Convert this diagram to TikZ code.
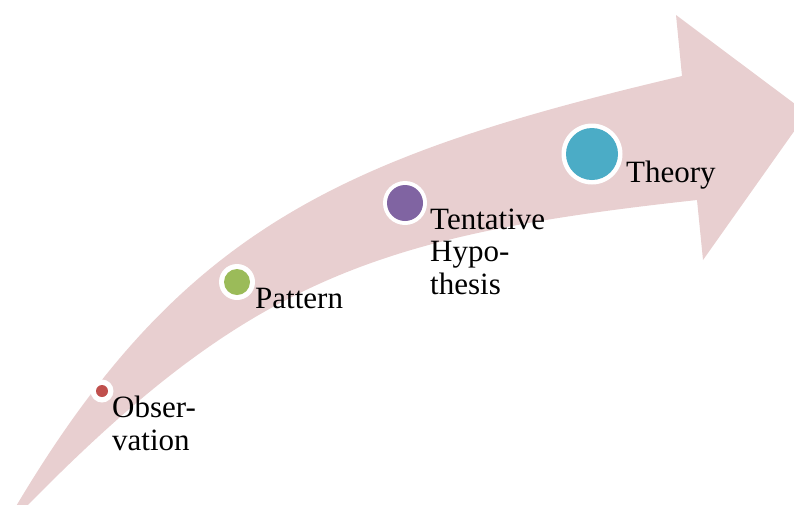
\documentclass[tikz,border=0pt]{standalone}
\usepackage{fontspec}
\setmainfont{Liberation Serif}
\newfontfamily\lblfont{Liberation Serif}
\definecolor{arrowpink}{HTML}{E8CFD0}
\definecolor{obsred}{HTML}{C0504D}
\definecolor{patgreen}{HTML}{9BBB59}
\definecolor{hyppurple}{HTML}{8064A2}
\definecolor{thblue}{HTML}{4BACC6}
\tikzset{
  ring/.style={circle, fill=white, inner sep=0pt, minimum size=#1},
  dot/.style={circle, inner sep=0pt, minimum size=#1},
  lbl/.style={anchor=base west, inner sep=0pt, align=left,
    font=\lblfont\fontsize{31}{32.5}\selectfont},
}
\begin{document}
\begin{tikzpicture}[x=1pt,y=-1pt]
\useasboundingbox (0,0) rectangle (794,504);
% curved arrow
\fill[arrowpink] (15,508) .. controls (181,228) and (342,156) .. (682,76)
  -- (676,15) -- (807,113) -- (703,260) -- (697,200)
  .. controls (377,235) and (249,279) .. (25,508) -- cycle;
% circles
\node[ring=23] (obsring) at (102,391) {};
\node[dot=12, fill=obsred] (obsdot) at (obsring.center) {};
\node[ring=36] (patring) at (237,282) {};
\node[dot=26, fill=patgreen] (patdot) at (patring.center) {};
\node[ring=44] (hypring) at (405,203) {};
\node[dot=36, fill=hyppurple] (hypdot) at (hypring.center) {};
\node[ring=61] (thring) at (592,154) {};
\node[dot=52, fill=thblue] (thdot) at (thring.center) {};
% labels (base anchor = baseline of last line)
\node[lbl] (obs) at (112,450) {Obser-\\vation};
\node[lbl] (pat) at (255,308) {Pattern};
\node[lbl] (hyp) at (430,294) {Tentative\\Hypo-\\thesis};
\node[lbl] (th) at (626,182) {Theory};
\end{tikzpicture}
\end{document}
